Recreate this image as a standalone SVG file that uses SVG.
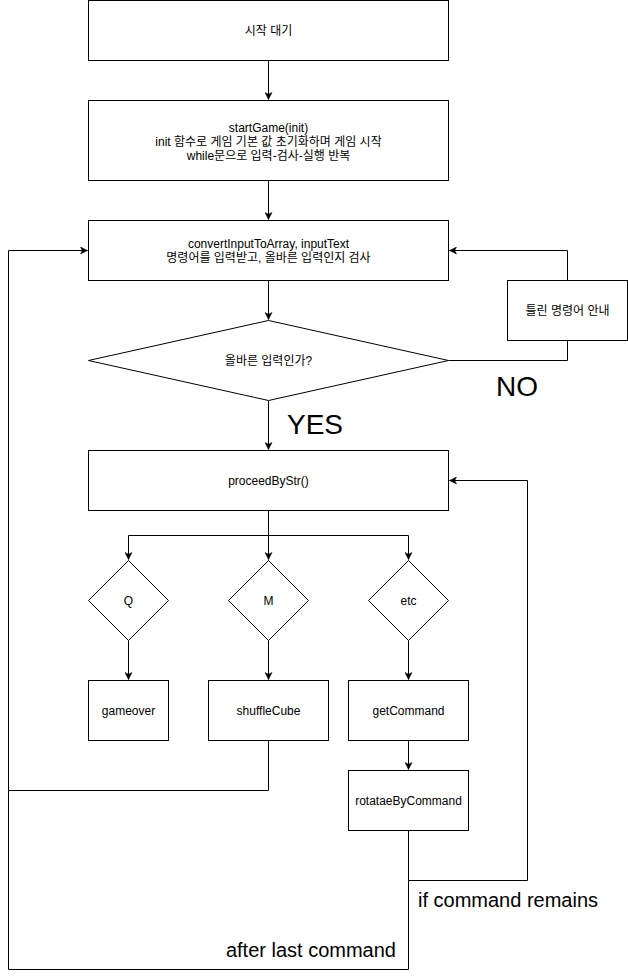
<svg xmlns="http://www.w3.org/2000/svg" width="628" height="979" viewBox="0 0 628 979">
<style>
.n{fill:#fff;stroke:#000;stroke-width:1}
.c{fill:none;stroke:#000;stroke-width:1}
.t{font-family:"Liberation Sans","Noto Sans CJK KR",Arial,sans-serif;font-size:12px;fill:#000;text-anchor:middle}
.big{font-family:"Liberation Sans","Noto Sans CJK KR",Arial,sans-serif;fill:#000}
</style>
<defs>
<marker id="arr" viewBox="-8 -4 9 8" refX="0" refY="0" markerWidth="9" markerHeight="8" orient="auto" markerUnits="userSpaceOnUse">
<path d="M0,0 L-7,-3.5 L-5.25,0 L-7,3.5 Z" fill="#000" stroke="#000" stroke-width="0.5"/>
</marker>
</defs>
<rect width="628" height="979" fill="#fff"/>
<g transform="translate(0.5,0.5)">
<g id="connectors">
<path class="c" d="M268,60 L268,99" marker-end="url(#arr)"/>
<path class="c" d="M268,180 L268,219" marker-end="url(#arr)"/>
<path class="c" d="M268,280 L268,319" marker-end="url(#arr)"/>
<path class="c" d="M448,360 L567,360 L567,340"/>
<path class="c" d="M567,280 L567,250 L449,250" marker-end="url(#arr)"/>
<path class="c" d="M268,400 L268,449" marker-end="url(#arr)"/>
<path class="c" d="M268,510 L268,535 L128,535 L128,559" marker-end="url(#arr)"/>
<path class="c" d="M268,535 L268,559" marker-end="url(#arr)"/>
<path class="c" d="M268,535 L408,535 L408,559" marker-end="url(#arr)"/>
<path class="c" d="M128,640 L128,679" marker-end="url(#arr)"/>
<path class="c" d="M268,640 L268,679" marker-end="url(#arr)"/>
<path class="c" d="M408,640 L408,679" marker-end="url(#arr)"/>
<path class="c" d="M408,740 L408,769" marker-end="url(#arr)"/>
<path class="c" d="M268,740 L268,790 L8,790 L8,250 L87,250" marker-end="url(#arr)"/>
<path class="c" d="M408,830 L408,880 L527,880 L527,480 L449,480" marker-end="url(#arr)"/>
<path class="c" d="M408,880 L408,969 L8,969 L8,790"/>
</g>
<g id="n-start">
<rect class="n" x="88" y="0" width="360" height="60"/>
<text class="t" x="268" y="34">시작 대기</text>
</g>
<g id="n-startgame">
<rect class="n" x="88" y="100" width="360" height="80"/>
<text class="t" x="268" y="131">startGame(init)</text>
<text class="t" x="268" y="145">init 함수로 게임 기본 값 초기화하며 게임 시작</text>
<text class="t" x="268" y="159">while문으로 입력-검사-실행 반복</text>
</g>
<g id="n-convert">
<rect class="n" x="88" y="220" width="360" height="60"/>
<text class="t" x="268" y="247">convertInputToArray, inputText</text>
<text class="t" x="268" y="261">명령어를 입력받고, 올바른 입력인지 검사</text>
</g>
<g id="n-valid">
<path class="n" d="M268,320 L448,360 L268,400 L88,360 Z"/>
<text class="t" x="268" y="364">올바른 입력인가?</text>
</g>
<g id="n-wrong">
<rect class="n" x="507" y="280" width="120" height="60"/>
<text class="t" x="567" y="314">틀린 명령어 안내</text>
</g>
<g id="n-proceed">
<rect class="n" x="88" y="450" width="360" height="60"/>
<text class="t" x="268" y="484">proceedByStr()</text>
</g>
<g id="n-q">
<path class="n" d="M128,560 L168,600 L128,640 L88,600 Z"/>
<text class="t" x="128" y="604">Q</text>
</g>
<g id="n-m">
<path class="n" d="M268,560 L308,600 L268,640 L228,600 Z"/>
<text class="t" x="268" y="604">M</text>
</g>
<g id="n-etc">
<path class="n" d="M408,560 L448,600 L408,640 L368,600 Z"/>
<text class="t" x="408" y="604">etc</text>
</g>
<g id="n-gameover">
<rect class="n" x="88" y="680" width="80" height="60"/>
<text class="t" x="128" y="714">gameover</text>
</g>
<g id="n-shuffle">
<rect class="n" x="208" y="680" width="120" height="60"/>
<text class="t" x="268" y="714">shuffleCube</text>
</g>
<g id="n-getcommand">
<rect class="n" x="348" y="680" width="120" height="60"/>
<text class="t" x="408" y="714">getCommand</text>
</g>
<g id="n-rotate">
<rect class="n" x="348" y="770" width="120" height="60"/>
<text class="t" x="408" y="804">rotataeByCommand</text>
</g>
</g>
<g id="labels">
<text class="big" x="517" y="396" font-size="28" text-anchor="middle">NO</text>
<text class="big" x="315" y="434" font-size="28" text-anchor="middle">YES</text>
<text class="big" x="418" y="907" font-size="20">if command remains</text>
<text class="big" x="396" y="957" font-size="20" text-anchor="end">after last command</text>
</g>
</svg>
